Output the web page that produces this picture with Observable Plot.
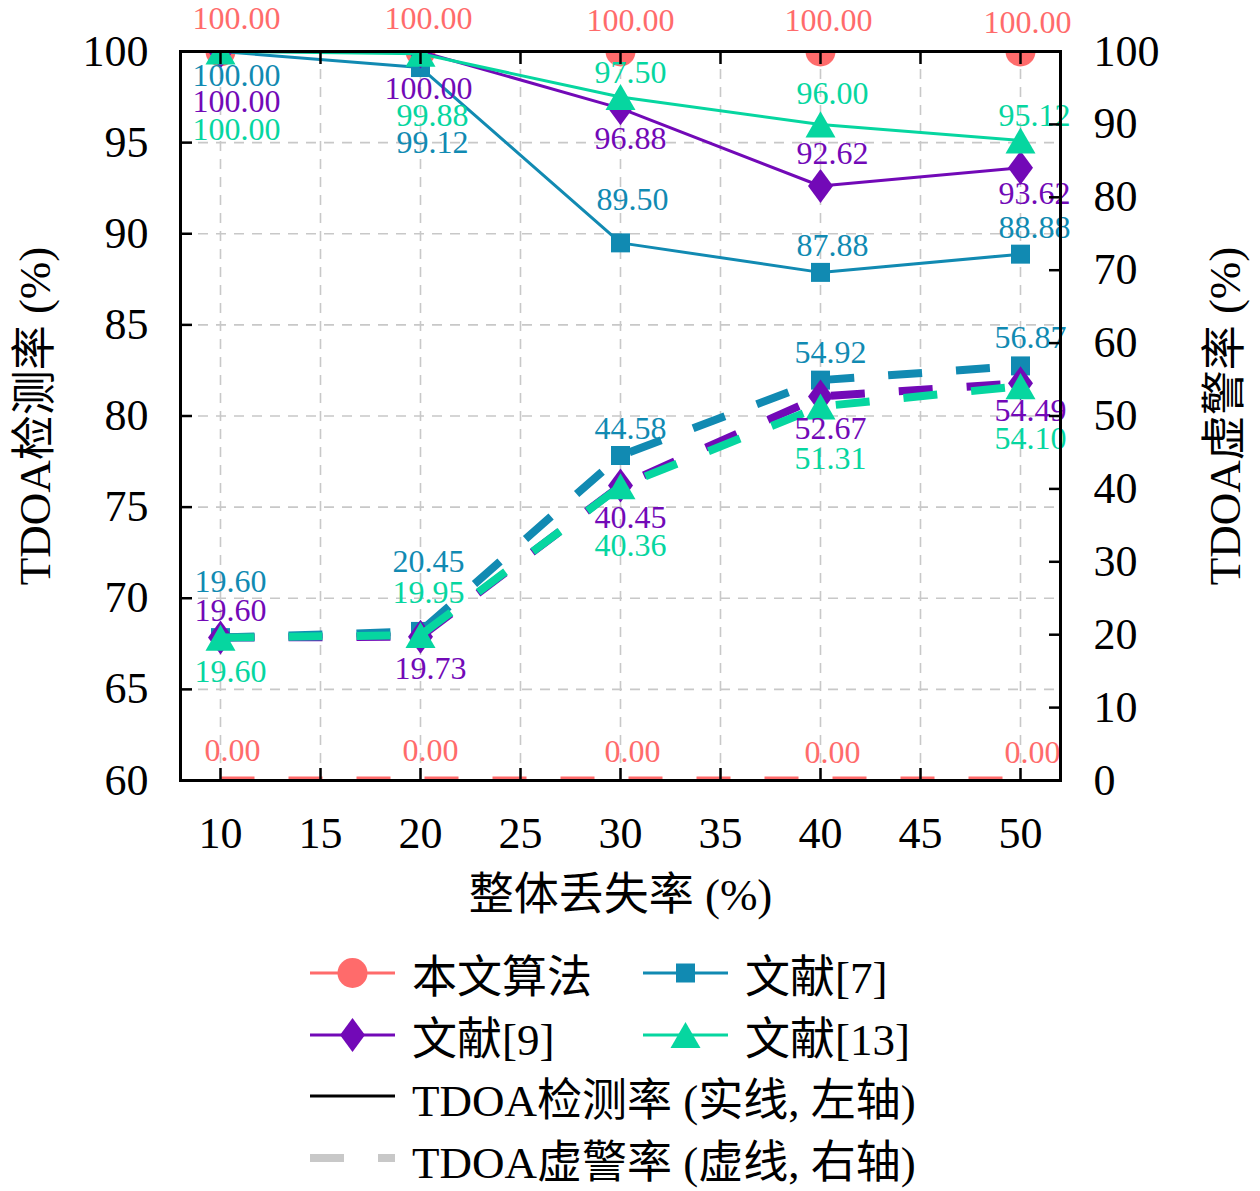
<!DOCTYPE html>
<html>
<head>
<meta charset="utf-8">
<script src="https://cdn.jsdelivr.net/npm/d3@7"></script>
<script src="https://cdn.jsdelivr.net/npm/@observablehq/plot@0.6"></script>
<style>
  html, body { margin: 0; padding: 0; background: white; }
  body { width: 1260px; height: 1191px; position: relative; overflow: hidden;
         font-family: "Liberation Serif", "Noto Sans CJK SC", serif; }
  #legend { position: absolute; left: 0; top: 930px; width: 1260px; height: 261px; }
  .item { position: absolute; height: 62px; display: flex; align-items: center; font-size: 45px; color: #000; white-space: nowrap; }
  .item svg { flex: none; }
  .item span { margin-left: 17px; }
</style>
</head>
<body>
<div id="chart"></div>
<div id="legend"></div>
<script>
// ---------- data ----------
const lossRates = [10, 20, 30, 40, 50];
const seriesNames = ["本文算法", "文献[7]", "文献[9]", "文献[13]"];
const detOurs  = [100, 100, 100, 100, 100];
const detRef7  = [100, 99.12, 89.50, 87.88, 88.88];
const detRef9  = [100, 100, 96.88, 92.62, 93.62];
const detRef13 = [100, 99.88, 97.50, 96.00, 95.12];
const faOurs   = [0, 0, 0, 0, 0];
const faRef7   = [19.60, 20.45, 44.58, 54.92, 56.87];
const faRef9   = [19.60, 19.73, 40.45, 52.67, 54.49];
const faRef13  = [19.60, 19.95, 40.36, 51.31, 54.10];
const xTicks = [10, 15, 20, 25, 30, 35, 40, 45, 50];
const leftTicks = [60, 65, 70, 75, 80, 85, 90, 95, 100];
const rightTicks = [0, 10, 20, 30, 40, 50, 60, 70, 80, 90, 100];
const xLabel = "整体丢失率 (%)";
const yLeftLabel = "TDOA检测率 (%)";
const yRightLabel = "TDOA虚警率 (%)";
const legendDet = "TDOA检测率 (实线, 左轴)";
const legendFa = "TDOA虚警率 (虚线, 右轴)";

// ---------- styling / layout ----------
const colors = ["#FF6B6B", "#118AB2", "#7209B7", "#06D6A0"];
const detSeries = [detOurs, detRef7, detRef9, detRef13];
const faSeries = [faOurs, faRef7, faRef9, faRef13];
// label offsets (px) [dx, dy] per series per point
const detLabelOffsets = [
  [[16,-33],[8,-33],[10,-31],[8,-31],[7,-29]],
  [[16,24],[12,75],[12,-43],[12,-27],[14,-26]],
  [[16,50],[8,37],[10,30],[12,-32],[14,26]],
  [[16,78],[12,62],[10,-24],[12,-31],[14,-25]]
];
const faLabelOffsets = [
  [[12,-30],[10,-30],[12,-29],[12,-28],[12,-28]],
  [[10,-56],[8,-70],[10,-27],[10,-27],[10,-28]],
  [[10,-27],[10,32],[10,32],[10,32],[10,27]],
  [[10,34],[8,-42],[10,59],[10,52],[10,53]]
];
const toLeft = v => 60 + v * 0.4; // right axis (0-100) mapped onto left axis (60-100)

// custom symbols (r = sqrt(size/PI))
const symCircle = "circle";
const symSquare = { draw(ctx, size) { const r = Math.sqrt(size / Math.PI); ctx.rect(-r, -r, 2 * r, 2 * r); } };
const symDiamond = { draw(ctx, size) { const r = Math.sqrt(size / Math.PI);
  ctx.moveTo(0, -r * 1.36); ctx.lineTo(r, 0); ctx.lineTo(0, r * 1.36); ctx.lineTo(-r, 0); ctx.closePath(); } };
const symTriangle = { draw(ctx, size) { const r = Math.sqrt(size / Math.PI);
  ctx.moveTo(0, -r * 0.87); ctx.lineTo(r, r * 0.87); ctx.lineTo(-r, r * 0.87); ctx.closePath(); } };
const symbols = [symCircle, symSquare, symDiamond, symTriangle];
const symR = [15, 9.5, 12.5, 15];

const rows = (vals, k, fa) => vals.map((v, i) => ({ x: lossRates[i], y: fa ? toLeft(v) : v, v, k, i }));

const marks = [
  Plot.gridX(xTicks, { stroke: "#c8c8c8", strokeOpacity: 1, strokeWidth: 1.6, strokeDasharray: "10,8" }),
  Plot.gridY(leftTicks, { stroke: "#c8c8c8", strokeOpacity: 1, strokeWidth: 1.6, strokeDasharray: "10,8" })
];

// detection lines (solid) + markers
detSeries.forEach((vals, k) => {
  const d = rows(vals, k, false);
  marks.push(Plot.line(d, { x: "x", y: "y", stroke: colors[k], strokeWidth: 3, clip: true }));
  marks.push(Plot.dot(d, { x: "x", y: "y", fill: colors[k], stroke: "none", symbol: symbols[k], r: symR[k], clip: true }));
});
// false alarm lines (dashed) + markers
faSeries.forEach((vals, k) => {
  const d = rows(vals, k, true);
  marks.push(Plot.line(d, { x: "x", y: "y", stroke: colors[k], strokeWidth: 8, strokeDasharray: "34,34", strokeLinecap: "butt", clip: true }));
  if (k > 0) marks.push(Plot.dot(d, { x: "x", y: "y", fill: colors[k], stroke: "none", symbol: symbols[k], r: symR[k], clip: true }));
});
// value labels
const addLabels = (series, offsets, fa) => series.forEach((vals, k) => {
  rows(vals, k, fa).forEach((p, i) => {
    marks.push(Plot.text([p], { x: "x", y: "y", text: d => d.v.toFixed(2), fill: colors[k],
      fontSize: 32, dx: offsets[k][i][0], dy: offsets[k][i][1], textAnchor: "middle" }));
  });
});
addLabels(detSeries, detLabelOffsets, false);
addLabels(faSeries, faLabelOffsets, true);

// axes: labels
marks.push(Plot.axisX(xTicks, { anchor: "bottom", tickSize: 0, tickPadding: 36, fontSize: 44, label: null }));
marks.push(Plot.axisY(leftTicks, { anchor: "left", tickSize: 0, tickPadding: 32, fontSize: 44, label: null }));
marks.push(Plot.axisY(rightTicks.map(toLeft), { anchor: "right", tickSize: 0, tickPadding: 33, fontSize: 44, label: null,
  tickFormat: d => String(Math.round((d - 60) / 0.4)) }));
// axes: inward ticks
const tk = { tickSize: -12, strokeWidth: 2.5, tickFormat: () => "", label: null };
marks.push(Plot.axisX(xTicks, { anchor: "bottom", ...tk }));
marks.push(Plot.axisX(xTicks, { anchor: "top", ...tk }));
marks.push(Plot.axisY(leftTicks, { anchor: "left", ...tk }));
marks.push(Plot.axisY(rightTicks.map(toLeft), { anchor: "right", ...tk }));
marks.push(Plot.frame({ stroke: "black", strokeWidth: 3 }));
// axis titles
marks.push(Plot.text([xLabel], { frameAnchor: "bottom", dy: 129, fontSize: 45, fill: "black", textAnchor: "middle" }));
marks.push(Plot.text([yLeftLabel], { frameAnchor: "left", dx: -145, rotate: -90, fontSize: 45, fill: "black", textAnchor: "middle" }));
marks.push(Plot.text([yRightLabel], { frameAnchor: "right", dx: 165, rotate: -90, fontSize: 45, fill: "black", textAnchor: "middle" }));

const chart = Plot.plot({
  width: 1260, height: 930,
  marginLeft: 180, marginRight: 200, marginTop: 51, marginBottom: 150,
  x: { domain: [8, 52] },
  y: { domain: [60, 100] },
  style: { fontFamily: '"Liberation Serif", "Noto Sans CJK SC", serif', background: "white", color: "black", overflow: "visible" },
  marks
});
document.getElementById("chart").appendChild(chart);

// ---------- legend ----------
function markerPath(k, cx, cy) {
  const r = symR[k];
  if (k === 0) return `<circle cx="${cx}" cy="${cy}" r="${r}" fill="${colors[k]}"/>`;
  const size = Math.PI * r * r;
  const p = d3.path();
  symbols[k].draw(p, size);
  return `<path transform="translate(${cx},${cy})" d="${p.toString()}" fill="${colors[k]}"/>`;
}
const legend = document.getElementById("legend");
const items = [
  { col: 0, row: 0, k: 0, text: seriesNames[0] },
  { col: 1, row: 0, k: 1, text: seriesNames[1] },
  { col: 0, row: 1, k: 2, text: seriesNames[2] },
  { col: 1, row: 1, k: 3, text: seriesNames[3] },
  { col: 0, row: 2, k: -1, text: legendDet },
  { col: 0, row: 3, k: -2, text: legendFa }
];
const colLeft = [310, 643];
const rowCenter = [43, 105, 166, 228];
items.forEach(it => {
  const div = document.createElement("div");
  div.className = "item";
  div.style.left = colLeft[it.col] + "px";
  div.style.top = (rowCenter[it.row] - 31) + "px";
  let svg = `<svg width="85" height="40" viewBox="0 0 85 40">`;
  if (it.k >= 0) {
    svg += `<line x1="0" x2="85" y1="20" y2="20" stroke="${colors[it.k]}" stroke-width="3"/>` + markerPath(it.k, 42.5, 20);
  } else if (it.k === -1) {
    svg += `<line x1="0" x2="85" y1="20" y2="20" stroke="black" stroke-width="3"/>`;
  } else {
    svg += `<line x1="0" x2="85" y1="20" y2="20" stroke="#c8c8c8" stroke-width="8" stroke-dasharray="34,34"/>`;
  }
  svg += `</svg>`;
  div.innerHTML = svg + `<span>${it.text}</span>`;
  legend.appendChild(div);
});
</script>
</body>
</html>
